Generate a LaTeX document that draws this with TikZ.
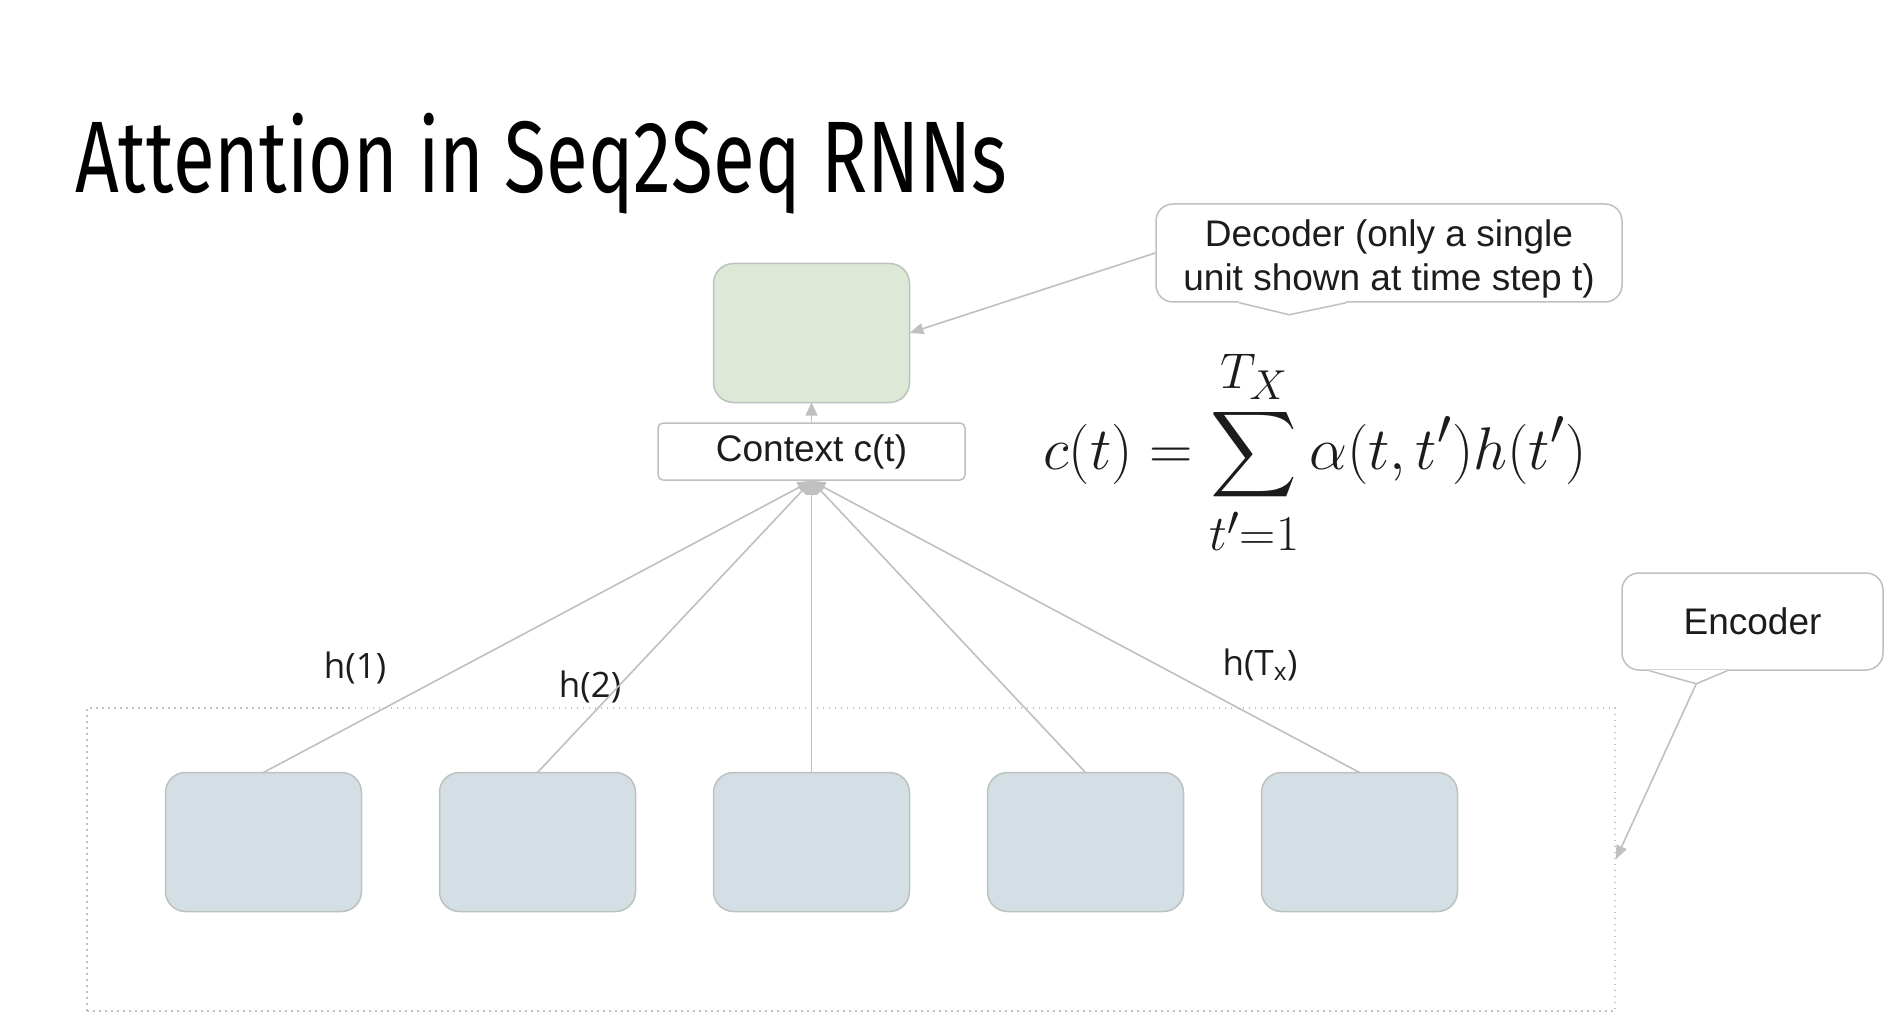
\documentclass[tikz,border=0pt]{standalone}
\usepackage{amsmath}
\usepackage{fontspec}
\usepackage{graphicx}
\usepackage{tikz}
\usetikzlibrary{arrows,arrows.meta,positioning,calc}
\newfontfamily\arialfont{Liberation Sans}
\newfontfamily\openfont{Open Sans}
\newfontfamily\titlefont{Fira Sans}
\definecolor{unitgreen}{RGB}{221,233,214}
\definecolor{unitblue}{RGB}{211,223,228}
\definecolor{unitline}{RGB}{188,194,190}
\definecolor{edgegray}{RGB}{192,192,192}
\definecolor{inkgray}{RGB}{28,28,28}

\begin{document}
\begin{tikzpicture}[x=1pt,y=-1pt,% pixel grid of the slide, y downwards
			every node/.style={
				align=center,  		% "\\" breaks lines in the notes
				inner sep=0pt,
				text=inkgray
			},
			unit/.style={rectangle,rounded corners=20pt,draw=unitline,line width=1.5pt,outer sep=0pt,
				fill=unitblue,minimum width=196pt,minimum height=139pt},
			note/.style={rectangle,rounded corners=17pt,draw=edgegray,line width=1.5pt,
				fill=white,font=\arialfont\fontsize{37}{44}\selectfont},
			hlab/.style={font=\openfont\fontsize{35}{40}\selectfont},
			every edge/.style={draw=edgegray,line width=1.6pt}
		]
		\fill[white] (0,0) rectangle (1903,1032);
		\useasboundingbox (0,0) rectangle (1903,1032);
		% title
		\node[anchor=north west,text=black](T) at (75,113){\resizebox*{932pt}{101pt}{\titlefont Attention in Seq2Seq RNNs}};
		% encoder frame and units
		\node[rectangle,draw=edgegray,line width=1.5pt,dash pattern=on 1.5pt off 4.5pt,
			minimum width=1528pt,minimum height=303pt](Enc) at (851,859.5){};
		\node[unit](H1) at (263.5,842){};
		\node[unit](H2)[right=78pt of H1]{};
		\node[unit](H3)[right=78pt of H2]{};
		\node[unit](H4)[right=78pt of H3]{};
		\node[unit](H5)[right=78pt of H4]{};
		% decoder unit and context
		\node[unit,fill=unitgreen](Dec) at (811.5,333){};
		\node[rectangle,rounded corners=5pt,draw=edgegray,line width=1.5pt,fill=white,
			minimum width=307pt,minimum height=57pt,font=\arialfont\fontsize{37}{43}\selectfont](Ctx) at (811.5,451.5){Context c(t)};
		% labels
		\node[hlab](L1) at (355,668){h(1)};
		\node[hlab](L2) at (590,687){h(2)};
		\node[hlab](L5) at (1260,665){h(T\textsubscript{x})};
		\node(Eq) at (1315,452){\scalebox{2.42}{\fontsize{24.88}{30}\selectfont $\displaystyle c(t)=\sum_{t'=1}^{T_X}\alpha(t,t')h(t')$}};
		% callouts
		\node[note,minimum width=466pt,minimum height=98pt](DecNote) at (1389,253){\rule{0pt}{38pt}Decoder (only a single\\unit shown at time step t)};
		\node[note,minimum width=261pt,minimum height=97pt](EncNote) at (1752.5,621.5){Encoder};
		\draw[white,line width=2.5pt] ($(DecNote.south west)+(84,0)$) -- ($(DecNote.south west)+(191,0)$);
		\draw[edgegray,line width=1.5pt] ($(DecNote.south west)+(84,0)$) -- ($(DecNote.south west)+(134,12)$) -- ($(DecNote.south west)+(191,0)$);
		\draw[white,line width=2.5pt] ($(EncNote.south west)+(28,0)$) -- ($(EncNote.south west)+(106,0)$);
		\draw[edgegray,line width=1.5pt] ($(EncNote.south west)+(28,0)$) -- ($(EncNote.south west)+(75,13)$) -- ($(EncNote.south west)+(106,0)$);
		\coordinate (EncTip) at ($(EncNote.south west)+(75,13)$);
		\path[-{Triangle[length=14pt,width=11pt]}]
		(H1.north)edge []	node [] {} (Ctx.south)
		(H2.north)edge []	node [] {} (Ctx.south)
		(H3.north)edge []	node [] {} (Ctx.south)
		(H4.north)edge []	node [] {} (Ctx.south)
		(H5.north)edge []	node [] {} (Ctx.south)
		(Ctx)edge [-{Triangle[length=13pt,width=12pt]}]	node [] {} (Dec)
		(DecNote.west)edge []	node [] {} (Dec.east)
		(EncTip)edge []	node [] {} (Enc.east)
		;
	\end{tikzpicture}
\end{document}
